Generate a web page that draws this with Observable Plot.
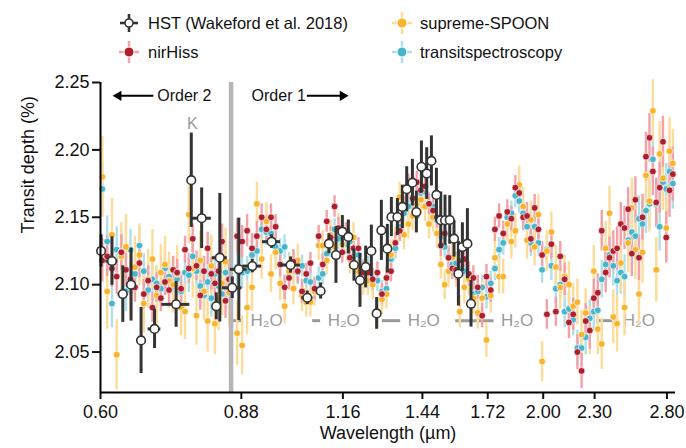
<!DOCTYPE html>
<html><head><meta charset="utf-8">
<script src="https://cdn.jsdelivr.net/npm/d3@7"></script>
<script src="https://cdn.jsdelivr.net/npm/@observablehq/plot@0.6"></script>
<style>
body{margin:0;background:#fff;font-family:"Liberation Sans",Arial,Helvetica,sans-serif;}
#legend{position:relative;width:686px;height:62px;}
.mk{position:absolute;width:24px;height:24px;}
.lab{position:absolute;font-size:16.5px;color:#111;white-space:nowrap;transform:translateY(-50%);line-height:1;}
#chart svg{display:block;}
</style></head><body>
<div id="legend"></div>
<div id="chart"></div>
<script>
// ---------- data ----------
const wavelength = [
0.603,0.611,0.619,0.627,0.635,0.643,0.651,0.659,0.667,0.675,0.683,0.691,0.699,0.707,0.715,0.723,0.731,0.739,0.747,0.755,0.763,0.771,0.779,0.787,0.795,0.803,0.811,0.819,0.827,0.835,0.843,0.851,
0.870,0.882,0.894,0.906,0.918,0.930,0.942,0.954,0.966,0.978,0.990,1.002,1.014,1.026,1.038,1.050,1.062,1.074,1.086,1.098,1.110,1.122,1.134,1.146,1.158,1.170,1.182,1.194,
1.210,1.226,1.242,1.258,1.274,1.290,1.306,1.322,1.338,1.354,1.370,1.386,1.402,1.418,1.434,1.450,1.466,1.482,1.498,1.514,1.530,1.546,1.562,1.578,1.594,
1.614,1.634,1.654,1.674,1.694,1.714,1.734,1.754,1.774,1.794,1.814,1.834,1.854,1.874,1.894,1.914,1.934,1.954,1.974,1.994,
2.020,2.045,2.070,2.095,2.120,2.145,2.170,2.195,2.220,2.245,2.270,2.295,2.320,2.345,2.370,2.395,2.420,2.445,2.470,2.495,
2.520,2.545,2.570,2.595,2.620,2.645,2.670,2.695,2.720,2.745,2.770,2.795,2.820,2.845];

const nirHiss = [
2.118,2.121,2.112,2.106,2.124,2.111,2.104,2.098,2.116,2.093,2.103,2.083,2.098,2.090,2.102,2.096,2.111,2.109,2.097,2.126,2.112,2.134,2.114,2.092,2.110,2.127,2.108,2.101,2.110,2.132,2.088,2.104,
2.136,2.132,2.140,2.127,2.136,2.150,2.141,2.150,2.143,2.115,2.098,2.105,2.117,2.110,2.095,2.108,2.116,2.097,2.136,2.115,2.147,2.135,2.158,2.142,2.124,2.138,2.120,2.127,
2.127,2.109,2.109,2.104,2.109,2.093,2.105,2.110,2.131,2.140,2.158,2.174,2.164,2.176,2.170,2.173,2.160,2.155,2.150,2.129,2.138,2.120,2.112,2.111,2.118,
2.119,2.108,2.105,2.098,2.077,2.106,2.096,2.141,2.151,2.138,2.154,2.149,2.172,2.168,2.150,2.151,2.134,2.157,2.141,2.122,
2.078,2.130,2.080,2.121,2.104,2.072,2.078,2.050,2.036,2.073,2.066,2.090,2.094,2.140,2.109,2.120,2.125,2.127,2.145,2.142,
2.156,2.123,2.163,2.120,2.150,2.195,2.209,2.184,2.161,2.172,2.206,2.135,2.170,2.182];

const supremeSpoon = [
2.180,2.095,2.137,2.048,2.121,2.128,2.100,2.113,2.122,2.086,2.104,2.119,2.092,2.109,2.115,2.103,2.100,2.108,2.083,2.080,2.152,2.112,2.077,2.118,2.095,2.073,2.114,2.071,2.090,2.101,2.117,2.094,
2.064,2.055,2.083,2.098,2.160,2.119,2.147,2.108,2.124,2.101,2.084,2.110,2.097,2.118,2.092,2.087,2.087,2.095,2.129,2.129,2.118,2.137,2.128,2.142,2.130,2.135,2.119,2.135,
2.110,2.103,2.103,2.100,2.079,2.089,2.093,2.122,2.132,2.165,2.137,2.145,2.151,2.160,2.163,2.158,2.145,2.150,2.138,2.115,2.100,2.110,2.120,2.110,2.080,
2.098,2.104,2.090,2.079,2.090,2.059,2.092,2.120,2.106,2.106,2.145,2.132,2.140,2.174,2.158,2.133,2.148,2.128,2.152,2.043,
2.125,2.139,2.113,2.098,2.106,2.100,2.084,2.087,2.063,2.079,2.066,2.110,2.067,2.056,2.127,2.153,2.076,2.071,2.116,2.083,
2.131,2.157,2.126,2.093,2.124,2.181,2.162,2.229,2.111,2.197,2.179,2.142,2.199,2.190];

const transitSpectroscopy = [
2.171,2.132,2.086,2.126,2.124,2.095,2.126,2.108,2.129,2.110,2.096,2.104,2.101,2.097,2.112,2.106,2.099,2.104,2.095,2.109,2.107,2.121,2.110,2.099,2.092,2.102,2.090,2.108,2.099,2.093,2.109,2.096,
2.113,2.109,2.110,2.122,2.125,2.141,2.139,2.138,2.128,2.125,2.128,2.115,2.117,2.109,2.114,2.103,2.102,2.095,2.105,2.108,2.123,2.128,2.141,2.134,2.140,2.130,2.132,2.121,
2.122,2.111,2.113,2.101,2.103,2.095,2.097,2.119,2.127,2.143,2.153,2.158,2.163,2.151,2.168,2.169,2.160,2.158,2.148,2.136,2.128,2.121,2.115,2.116,2.112,
2.110,2.104,2.093,2.095,2.098,2.091,2.101,2.112,2.126,2.131,2.150,2.153,2.166,2.162,2.153,2.143,2.131,2.143,2.131,2.111,
2.126,2.114,2.097,2.100,2.080,2.082,2.074,2.053,2.053,2.061,2.075,2.080,2.081,2.104,2.115,2.122,2.114,2.103,2.109,2.106,
2.133,2.139,2.136,2.149,2.145,2.155,2.160,2.193,2.160,2.143,2.176,2.171,2.184,2.175];

const nirHissErr = [
0.016,0.015,0.014,0.013,0.013,0.012,0.012,0.011,0.011,0.011,0.011,0.011,0.011,0.010,0.010,0.010,0.010,0.010,0.010,0.010,0.011,0.011,0.011,0.011,0.011,0.012,0.012,0.012,0.012,0.013,0.013,0.013,
0.013,0.012,0.012,0.011,0.011,0.010,0.010,0.010,0.009,0.009,0.009,0.009,0.009,0.009,0.009,0.008,0.008,0.008,0.008,0.008,0.008,0.008,0.008,0.008,0.008,0.008,0.008,0.008,
0.008,0.008,0.008,0.008,0.008,0.008,0.008,0.008,0.008,0.008,0.008,0.008,0.008,0.008,0.008,0.008,0.008,0.008,0.008,0.008,0.008,0.008,0.008,0.008,0.008,
0.009,0.009,0.009,0.009,0.009,0.009,0.009,0.009,0.009,0.009,0.009,0.009,0.009,0.009,0.010,0.010,0.010,0.010,0.010,0.010,
0.011,0.011,0.011,0.011,0.012,0.012,0.012,0.013,0.013,0.013,0.014,0.014,0.014,0.015,0.015,0.015,0.015,0.016,0.016,0.016,
0.016,0.017,0.017,0.017,0.017,0.018,0.018,0.018,0.018,0.019,0.019,0.019,0.020,0.020];

const supremeSpoonErr = [
0.030,0.028,0.027,0.026,0.025,0.024,0.024,0.023,0.023,0.022,0.022,0.022,0.022,0.021,0.021,0.021,0.021,0.021,0.021,0.021,0.022,0.022,0.022,0.022,0.022,0.023,0.023,0.023,0.024,0.024,0.025,0.025,
0.024,0.022,0.020,0.018,0.016,0.015,0.014,0.014,0.013,0.013,0.013,0.012,0.012,0.012,0.012,0.011,0.011,0.011,0.011,0.011,0.011,0.011,0.011,0.011,0.011,0.011,0.011,0.011,
0.011,0.011,0.011,0.011,0.011,0.011,0.011,0.011,0.011,0.011,0.011,0.011,0.011,0.011,0.011,0.011,0.011,0.011,0.011,0.011,0.011,0.012,0.012,0.012,0.012,
0.012,0.012,0.012,0.012,0.013,0.013,0.013,0.013,0.013,0.013,0.013,0.013,0.013,0.014,0.014,0.014,0.014,0.014,0.015,0.015,
0.015,0.015,0.016,0.016,0.016,0.017,0.017,0.017,0.018,0.018,0.018,0.019,0.019,0.019,0.020,0.020,0.020,0.021,0.021,0.021,
0.022,0.022,0.022,0.022,0.023,0.023,0.023,0.023,0.024,0.024,0.024,0.024,0.025,0.025];

const transitSpectroscopyErr = [
0.020,0.019,0.018,0.017,0.016,0.015,0.015,0.014,0.014,0.013,0.013,0.013,0.013,0.012,0.012,0.012,0.012,0.012,0.012,0.012,0.013,0.013,0.013,0.013,0.013,0.014,0.014,0.014,0.014,0.015,0.015,0.015,
0.013,0.012,0.011,0.011,0.010,0.010,0.010,0.009,0.009,0.009,0.009,0.009,0.009,0.009,0.008,0.008,0.008,0.008,0.008,0.008,0.008,0.008,0.008,0.008,0.008,0.008,0.008,0.008,
0.008,0.008,0.008,0.008,0.008,0.008,0.008,0.008,0.008,0.008,0.008,0.008,0.008,0.008,0.008,0.008,0.008,0.008,0.008,0.008,0.008,0.008,0.008,0.008,0.008,
0.009,0.009,0.009,0.009,0.009,0.009,0.009,0.009,0.009,0.009,0.009,0.009,0.009,0.009,0.010,0.010,0.010,0.010,0.010,0.010,
0.011,0.011,0.011,0.011,0.012,0.012,0.012,0.013,0.013,0.013,0.014,0.014,0.014,0.014,0.015,0.015,0.015,0.015,0.016,0.016,
0.016,0.016,0.017,0.017,0.017,0.017,0.018,0.018,0.018,0.018,0.019,0.019,0.019,0.019];

// HST (Wakeford et al. 2018)
const hstWave  = [0.601,0.619,0.6375,0.652,0.670,0.695,0.737,0.768,0.790,0.822,0.830,0.8586,0.874,0.9066,0.9555,1.006,1.053,1.0918,1.1167,1.1383,1.1582,1.1773,1.1954,1.2151,1.234,1.2533,1.2715,1.2879,1.309,1.3234,1.3452,1.3636,1.3798,1.4013,1.4165,1.4361,1.4569,1.4757,1.4959,1.5135,1.5313,1.551,1.5692,1.588,1.6054,1.6274,1.6434];
const hstDepth = [2.125,2.1175,2.093,2.100,2.0586,2.0672,2.0854,2.1775,2.1493,2.0839,2.120,2.0977,2.1114,2.1138,2.1319,2.1146,2.0903,2.0953,2.1304,2.122,2.1393,2.1354,2.1146,2.1032,2.1131,2.125,2.0787,2.1403,2.1267,2.1502,2.1502,2.1577,2.1708,2.1757,2.1539,2.1874,2.1824,2.1918,2.1666,2.1478,2.1478,2.148,2.1341,2.1081,2.1279,2.1304,2.0858];
const hstErr   = [0.012,0.018,0.021,0.027,0.0245,0.0146,0.017,0.035,0.0225,0.010,0.0477,0.008,0.038,0.005,0.005,0.006,0.005,0.006,0.0074,0.021,0.012,0.0126,0.012,0.020,0.0155,0.0192,0.0118,0.0223,0.018,0.0145,0.0137,0.0161,0.0167,0.0173,0.0155,0.0192,0.0192,0.0186,0.0198,0.021,0.0186,0.018,0.0136,0.024,0.018,0.026,0.0173];
const hstXErr  = [0,0.010,0.008,0.008,0.008,0.012,0.028,0.006,0.021,0.006,0.017,0.023,0.020,0.0234,0.0234,0.0274,0.016,0.007,0.006,0.006,0.006,0.006,0.006,0.006,0.006,0.006,0.006,0.006,0.006,0.006,0.006,0.006,0.006,0.006,0.006,0.006,0.006,0.006,0.006,0.006,0.006,0.006,0.006,0.006,0.006,0.006,0.006];

const xTicks = [0.60, 0.88, 1.16, 1.44, 1.72, 2.00, 2.30, 2.80];
const yTicks = [2.05, 2.10, 2.15, 2.20, 2.25];
const orderSplit = 0.8558;
const h2oBands = [
  {x1: 0.8593, x2: 0.8854},
  {x1: 1.0683, x2: 1.0918},
  {x1: 1.2913, x2: 1.3573},
  {x1: 1.5764, x2: 1.7496},
  {x1: 2.3137, x2: 2.4364}
];

// ---------- styles ----------
const C = {
  red: "#ad1f2d", redErr: "#f5a0a6",
  org: "#f9b42e", orgErr: "#fddc9a",
  teal: "#47b6cc", tealErr: "#aee0ea",
  hst: "#333333"
};
const FONT = '"Liberation Sans", Arial, Helvetica, sans-serif';

// ---------- legend ----------
const legend = document.getElementById("legend");
function addItem(cx, cy, tx, label, svgInner) {
  const s = document.createElementNS("http://www.w3.org/2000/svg", "svg");
  s.setAttribute("class", "mk");
  s.setAttribute("viewBox", "0 0 24 24");
  s.style.left = (cx - 12) + "px";
  s.style.top = (cy - 12) + "px";
  s.innerHTML = svgInner;
  legend.appendChild(s);
  const t = document.createElement("div");
  t.className = "lab";
  t.style.left = tx + "px";
  t.style.top = cy + "px";
  t.textContent = label;
  legend.appendChild(t);
}
const markerFor = (dot, err) =>
  `<line x1="2" y1="12" x2="22" y2="12" stroke="${err}" stroke-width="2.5"/>` +
  `<line x1="12" y1="1" x2="12" y2="23" stroke="${err}" stroke-width="2.5"/>` +
  `<circle cx="12" cy="12" r="5" fill="${dot}" stroke="white" stroke-width="1"/>`;
addItem(129, 23, 148, "HST (Wakeford et al. 2018)",
  `<line x1="3" y1="12" x2="21" y2="12" stroke="${C.hst}" stroke-width="2.6"/>` +
  `<line x1="12" y1="3" x2="12" y2="21" stroke="${C.hst}" stroke-width="2.6"/>` +
  `<circle cx="12" cy="12" r="4" fill="white" stroke="${C.hst}" stroke-width="1.6"/>`);
addItem(129, 52, 148, "nirHiss", markerFor(C.red, C.redErr));
addItem(402, 23, 420, "supreme-SPOON", markerFor(C.org, C.orgErr));
addItem(402, 52, 420, "transitspectroscopy", markerFor(C.teal, C.tealErr));

// ---------- chart ----------
const rows = (vals, errs) => wavelength.map((w, i) => ({w, d: vals[i], e: errs[i]}));
const red = rows(nirHiss, nirHissErr);
const org = rows(supremeSpoon, supremeSpoonErr);
const teal = rows(transitSpectroscopy, transitSpectroscopyErr);
const hst = hstWave.map((w, i) => ({w, d: hstDepth[i], e: hstErr[i], xe: hstXErr[i]}));

const errBars = (data, color) => Plot.ruleX(data, {x: "w", y1: d => d.d - d.e, y2: d => d.d + d.e, stroke: color, strokeWidth: 2.4});
const dots = (data, color) => Plot.dot(data, {x: "w", y: "d", r: 3.4, fill: color, stroke: "white", strokeWidth: 0.7});

const arrowY = 2.2401;
const h2oY = 2.0733;

const chart = Plot.plot({
  width: 686, height: 386,
  marginTop: 20, marginBottom: 56, marginLeft: 100, marginRight: 11,
  style: {fontFamily: FONT, fontSize: "18px", color: "#111", background: "white", overflow: "visible"},
  x: {type: "log", domain: [0.6, 2.866]},
  y: {domain: [2.02, 2.25]},
  marks: [
    Plot.ruleY(h2oBands, {y: () => h2oY, x1: "x1", x2: "x2", stroke: "#9a9a9a", strokeWidth: 3}),
    Plot.text(h2oBands, {x: "x2", y: () => h2oY, text: () => "H\u2082O", textAnchor: "start", dx: 7, fill: "#9a9a9a", fontSize: 17}),
    errBars(teal, C.tealErr),
    errBars(org, C.orgErr),
    errBars(red, C.redErr),
    dots(teal, C.teal),
    dots(org, C.org),
    dots(red, C.red),
    Plot.ruleX([orderSplit], {stroke: "#b5b5b5", strokeWidth: 4.5}),
    Plot.ruleY(hst, {y: "d", x1: d => d.w - d.xe, x2: d => d.w + d.xe, stroke: C.hst, strokeWidth: 3}),
    Plot.ruleX(hst, {x: "w", y1: d => d.d - d.e, y2: d => d.d + d.e, stroke: C.hst, strokeWidth: 3}),
    Plot.dot(hst, {x: "w", y: "d", r: 4.3, fill: "white", stroke: C.hst, strokeWidth: 1.6}),
    // order annotations
    Plot.ruleY([arrowY], {x1: 0.6301, x2: 0.6937, stroke: "black", strokeWidth: 2}),
    Plot.dot([0.6301], {x: d => d, y: () => arrowY, symbol: "triangle", rotate: -90, r: 3.8, fill: "black", stroke: "none"}),
    Plot.text(["Order 2"], {x: () => 0.7001, y: () => arrowY, text: d => d, textAnchor: "start", fontSize: 16, fill: "#111"}),
    Plot.text(["Order 1"], {x: () => 0.9049, y: () => arrowY, text: d => d, textAnchor: "start", fontSize: 16, fill: "#111"}),
    Plot.ruleY([arrowY], {x1: 1.053, x2: 1.158, stroke: "black", strokeWidth: 2}),
    Plot.dot([1.1594], {x: d => d, y: () => arrowY, symbol: "triangle", rotate: 90, r: 3.8, fill: "black", stroke: "none"}),
    Plot.text(["K"], {x: () => 0.770, y: () => 2.2195, text: d => d, fontSize: 16, fill: "#9a9a9a"}),
    // axes
    Plot.axisY({ticks: yTicks, tickFormat: d => d.toFixed(2), tickSize: 8, tickPadding: 3, strokeWidth: 2, label: null, fontSize: 18}),
    Plot.axisX({ticks: xTicks, tickFormat: d => d.toFixed(2), tickSize: 7, tickPadding: 6, strokeWidth: 2, label: null, fontSize: 18}),
    Plot.ruleX([0.6], {stroke: "black", strokeWidth: 2}),
    Plot.ruleY([2.02], {stroke: "black", strokeWidth: 2}),
    Plot.text(["Wavelength (\u00b5m)"], {frameAnchor: "bottom", text: d => d, dy: 46, fontSize: 18, fill: "#111"}),
    Plot.text(["Transit depth (%)"], {frameAnchor: "left", text: d => d, dx: -72, dy: -4, rotate: -90, fontSize: 18, fill: "#111"})
  ]
});
document.getElementById("chart").appendChild(chart);
</script>
</body></html>
